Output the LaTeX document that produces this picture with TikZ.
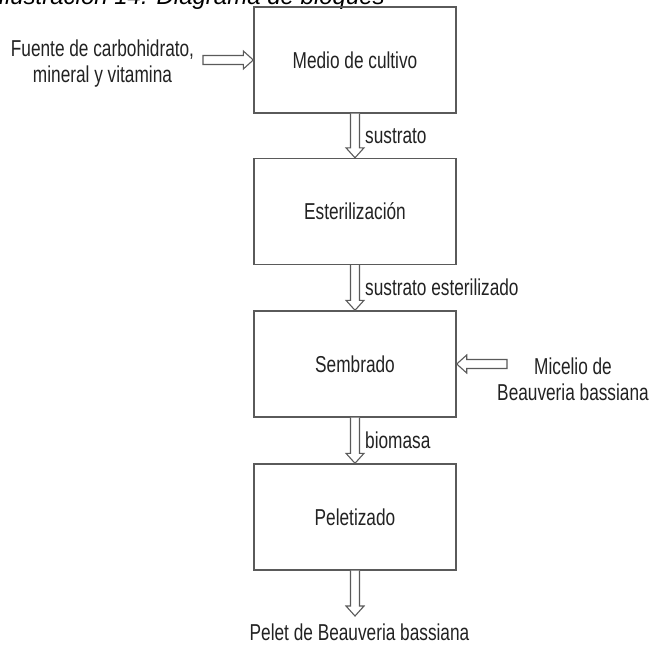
\documentclass[tikz,border=0pt]{standalone}
\usepackage{fontspec}
\setmainfont{Liberation Sans}[FakeStretch=0.75]
\newfontfamily\titlefont{Liberation Sans}
\usetikzlibrary{calc}
\definecolor{linec}{HTML}{5A5A5A}
\definecolor{txtc}{HTML}{222222}
\tikzset{
  blockbox/.style={draw=linec, line width=1.4pt, minimum width=202pt, minimum height=106pt, inner sep=0pt, text=txtc, font=\fontsize{23}{26}\selectfont},
  plaintext/.style={inner sep=0pt, text=txtc, font=\fontsize{23}{26}\selectfont, align=center},
  hollowarrow/.style={draw=linec, line width=1.1pt, fill=white, line join=miter},
}
\newcommand\downhollow[2]{%
  \draw[hollowarrow] ($(#1)+(-4.5,0)$) -- ($(#2)+(-4.5,-10)$) -- ($(#2)+(-9,-10)$) -- (#2) -- ($(#2)+(9,-10)$) -- ($(#2)+(4.5,-10)$) -- ($(#1)+(4.5,0)$);}
\newcommand\righthollow[2]{%
  \draw[hollowarrow] ($(#1)+(0,-4.5)$) -- ($(#2)+(-10,-4.5)$) -- ($(#2)+(-10,-9)$) -- (#2) -- ($(#2)+(-10,9)$) -- ($(#2)+(-10,4.5)$) -- ($(#1)+(0,4.5)$) -- cycle;}
\newcommand\lefthollow[2]{%
  \draw[hollowarrow] ($(#1)+(0,-4.5)$) -- ($(#2)+(10,-4.5)$) -- ($(#2)+(10,-9)$) -- (#2) -- ($(#2)+(10,9)$) -- ($(#2)+(10,4.5)$) -- ($(#1)+(0,4.5)$) -- cycle;}
\begin{document}
\begin{tikzpicture}[x=1pt,y=-1pt]
  \useasboundingbox (0,0) rectangle (653,645);
  \clip (0,0) rectangle (653,645);
  \fill[white] (0,0) rectangle (653,645);

  % title (cut off at the top, as in the reference)
  \node[anchor=base east, inner sep=0pt, text=black, font=\titlefont\itshape\fontsize{24}{28}\selectfont] (title) at (385,4.5) {Ilustración 14. Diagrama de bloques};

  % blocks
  \node[blockbox] (medio) at (355,60) {Medio de cultivo};
  \node[blockbox] (ester) at (355,211.5) {Esterilización};
  \node[blockbox] (sembr) at (355,364) {Sembrado};
  \node[blockbox] (pelet) at (355,517) {Peletizado};

  % side inputs
  \node[plaintext] (fuente) at (102.5,63.5) {Fuente de carbohidrato,\\mineral y vitamina};
  \node[plaintext] (micelio) at (573,379.5) {Micelio de\\Beauveria bassiana};
  \coordinate (fuentetail) at (203,60);
  \coordinate (miceliotail) at (507,364);

  % output
  \coordinate (outtip) at (355,616);
  \node[plaintext, anchor=base] (salida) at (359.5,640) {Pelet de Beauveria bassiana};

  % connectors
  \righthollow{fuentetail}{medio.west}
  \lefthollow{miceliotail}{sembr.east}
  \downhollow{medio.south}{ester.north}
  \downhollow{ester.south}{sembr.north}
  \downhollow{sembr.south}{pelet.north}
  \downhollow{pelet.south}{outtip}

  % connector labels
  \node[plaintext, anchor=west] (l1) at ($(medio.south)!0.5!(ester.north)+(10,0)$) {sustrato};
  \node[plaintext, anchor=west] (l2) at ($(ester.south)!0.5!(sembr.north)+(10,0)$) {sustrato esterilizado};
  \node[plaintext, anchor=west] (l3) at ($(sembr.south)!0.5!(pelet.north)+(10,0)$) {biomasa};
\end{tikzpicture}
\end{document}
